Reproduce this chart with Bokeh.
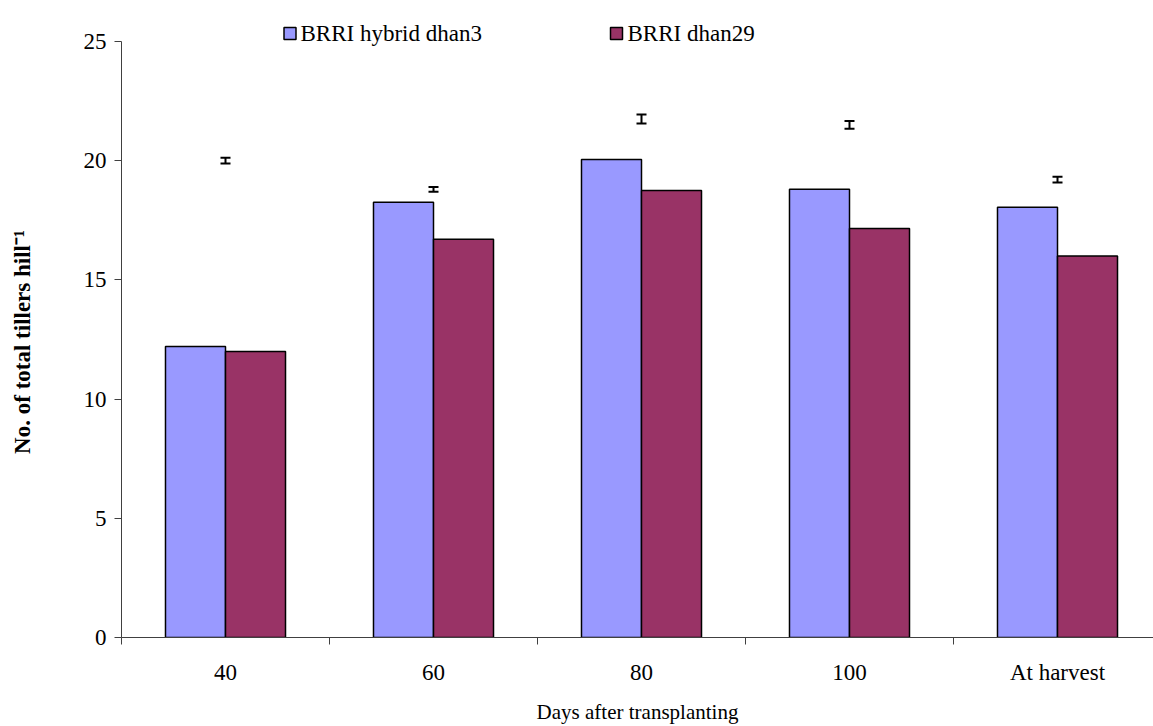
from bokeh.plotting import figure
from bokeh.models import (FixedTicker, Whisker, ColumnDataSource, Range1d, TeeHead)
from bokeh.core.properties import value
from bokeh.embed import file_html
from bokeh.resources import INLINE

# ---- data ----
categories = ["40", "60", "80", "100", "At harvest"]
hybrid_dhan3 = [12.2, 18.25, 20.05, 18.8, 18.05]
dhan29 = [12.0, 16.7, 18.75, 17.15, 16.0]
err_center = [20.0, 18.8, 21.75, 21.5, 19.2]
err_half = [0.12, 0.10, 0.19, 0.16, 0.12]
y_ticks = [0, 5, 10, 15, 20, 25]
y_max = 25
series_names = ["BRRI hybrid dhan3", "BRRI dhan29"]
series_colors = ["#9999FF", "#993366"]
x_title = "Days after transplanting"
y_title = "No. of total tillers hill\u207b\u00b9"

FONT = "Liberation Serif"
W, H = 1153, 726
L, B = 121, 88
axis_top_px = 41            # pixel row where the y axis (value 25) ends
frame_h = H - B
cat_px = 208.0
x_end = (W - L) / cat_px
y_end = y_max * frame_h / (frame_h - axis_top_px)
px_per_y = frame_h / y_end
bw = 0.2885

# legend layout (pixel positions in the page)
legend_swatch_px = [289.5, 616.0]
legend_text_px = [300.0, 627.0]
legend_row_px = 33.0

centers = [i + 0.5 for i in range(len(categories))]
boundaries = [float(i) for i in range(len(categories) + 1)]

src = ColumnDataSource(dict(
    xc=centers,
    xb=[c - bw / 2 for c in centers],
    xr=[c + bw / 2 for c in centers],
    hyb=hybrid_dhan3,
    d29=dhan29,
    upper=[c + h for c, h in zip(err_center, err_half)],
    lower=[c - h for c, h in zip(err_center, err_half)],
))

p = figure(width=W, height=H, output_backend="svg", toolbar_location=None,
           x_range=Range1d(0, x_end), y_range=Range1d(0, y_end),
           min_border_left=L, min_border_top=0, min_border_bottom=B,
           min_border_right=0)
p.outline_line_color = None
p.xgrid.visible = False
p.ygrid.visible = False
p.background_fill_color = "white"

p.vbar(x="xb", top="hyb", width=bw, bottom=0, source=src,
       fill_color=series_colors[0], line_color="black", line_width=1.5)
p.vbar(x="xr", top="d29", width=bw, bottom=0, source=src,
       fill_color=series_colors[1], line_color="black", line_width=1.5)

wh = Whisker(base="xc", upper="upper", lower="lower", source=src,
             line_color="black", line_width=2,
             upper_head=TeeHead(size=10, line_width=2, line_color="black"),
             lower_head=TeeHead(size=10, line_width=2, line_color="black"))
p.add_layout(wh)

# legend drawn inside the (taller) frame, above the y axis end
leg = ColumnDataSource(dict(
    sx=[(v - L) / cat_px for v in legend_swatch_px],
    tx=[(v - L) / cat_px for v in legend_text_px],
    y=[(frame_h - legend_row_px) / px_per_y] * len(series_names),
    name=series_names,
    color=series_colors,
))
p.rect(x="sx", y="y", width=12, height=12, width_units="screen",
       height_units="screen", source=leg, fill_color="color",
       line_color="black", line_width=1.5)
p.text(x="tx", y="y", text="name", source=leg, text_font=value(FONT),
       text_font_size="23px", text_baseline="middle", text_align="left",
       text_color="black")

# y axis
ya = p.yaxis[0]
ya.bounds = (0, y_max)
ya.ticker = FixedTicker(ticks=y_ticks)
ya.minor_tick_line_color = None
ya.major_tick_in = 0
ya.major_tick_out = 7
ya.axis_line_color = "#404040"
ya.major_tick_line_color = "#404040"
ya.major_label_text_font = FONT
ya.major_label_text_font_size = "23px"
ya.major_label_text_color = "black"
ya.major_label_standoff = 8
# trailing no-break spaces centre the visible title on the 0-25 axis span
ya.axis_label = y_title + "\u00a0" * 8
ya.axis_label_text_font = FONT
ya.axis_label_text_font_size = "23px"
ya.axis_label_text_font_style = "bold"
ya.axis_label_text_color = "black"
ya.axis_label_standoff = 46

# x axis
xa = p.xaxis[0]
xa.ticker = FixedTicker(ticks=centers, minor_ticks=boundaries)
xa.major_label_overrides = {c: lab for c, lab in zip(centers, categories)}
xa.major_tick_line_color = None
xa.major_tick_in = 0
xa.major_tick_out = 0
xa.minor_tick_in = 0
xa.minor_tick_out = 7
xa.minor_tick_line_color = "#404040"
xa.axis_line_color = "#404040"
xa.major_label_text_font = FONT
xa.major_label_text_font_size = "23px"
xa.major_label_text_color = "black"
xa.major_label_standoff = 15
xa.axis_label = x_title
xa.axis_label_text_font = FONT
xa.axis_label_text_font_size = "21px"
xa.axis_label_text_font_style = "normal"
xa.axis_label_text_color = "black"
xa.axis_label_standoff = 12

open("out.html", "w").write(file_html(p, INLINE))
